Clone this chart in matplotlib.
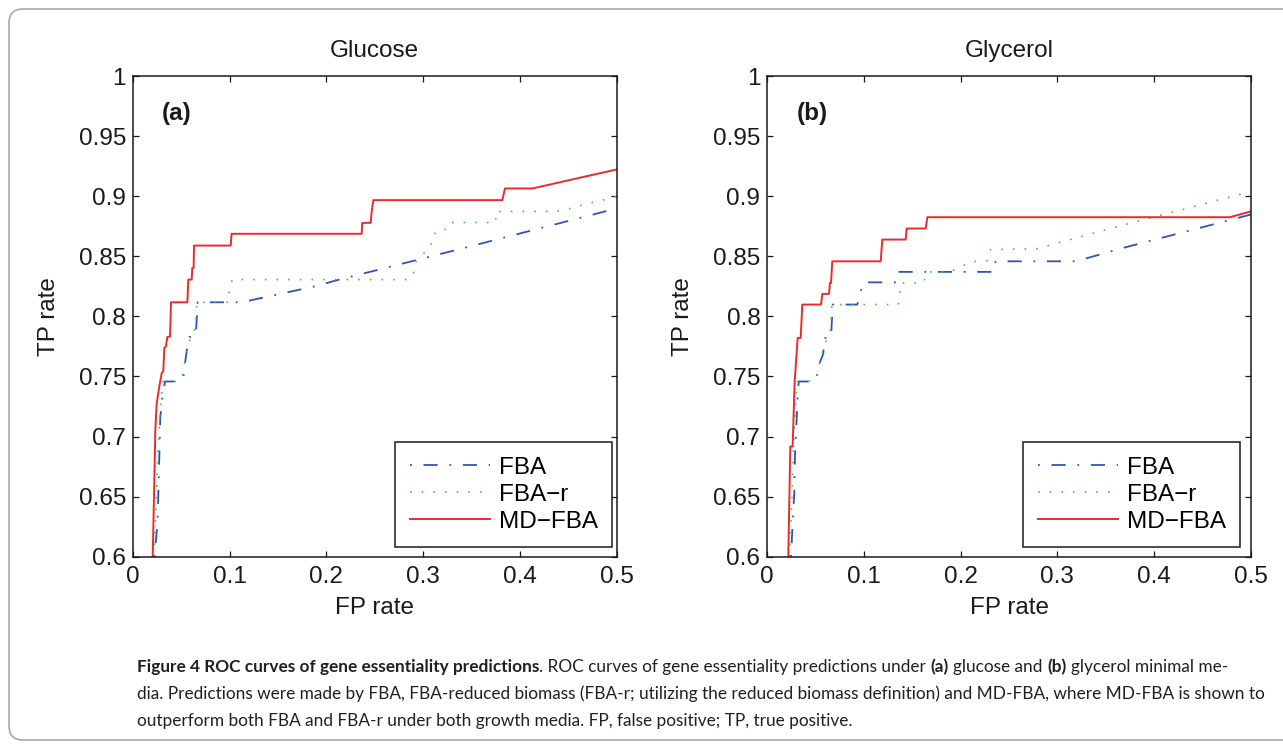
import matplotlib
matplotlib.use("Agg")
import matplotlib.pyplot as plt
from matplotlib.patches import FancyBboxPatch
from matplotlib.transforms import IdentityTransform

# ---- values (FP rate, TP rate) ----
GLU_FBA_X = [0.0222, 0.0245, 0.0255, 0.0262, 0.0272, 0.0282, 0.0307, 0.0331, 0.0452, 0.052,
             0.0538, 0.0555, 0.0582, 0.0648, 0.0659, 0.0669, 0.1124, 0.1882, 0.2107, 0.3492, 0.5]
GLU_FBA_Y = [0.6, 0.6208, 0.632, 0.6528, 0.6833, 0.7153, 0.7348, 0.7458, 0.7458, 0.7487,
             0.7612, 0.7708, 0.7828, 0.7833, 0.7973, 0.8117, 0.8117, 0.825, 0.83, 0.8583, 0.8898]
GLU_FBAR_X = [0.0215, 0.0238, 0.026, 0.0285, 0.031, 0.0434, 0.0505, 0.0566, 0.0648, 0.0652,
              0.0659, 0.0993, 0.0996, 0.1027, 0.283, 0.2899, 0.2909, 0.2961, 0.3037, 0.3082,
              0.3113, 0.3219, 0.3268, 0.3751, 0.3751, 0.4354, 0.4471, 0.4588, 0.4702, 0.4815,
              0.4933, 0.5]
GLU_FBAR_Y = [0.6, 0.64, 0.69, 0.725, 0.7458, 0.7458, 0.748, 0.7764, 0.7908, 0.8006,
              0.8117, 0.8117, 0.8228, 0.8306, 0.8306, 0.8342, 0.8437, 0.8495, 0.8542, 0.8597,
              0.8687, 0.8708, 0.8781, 0.8781, 0.8873, 0.8873, 0.8887, 0.8912, 0.8939, 0.8958,
              0.8983, 0.8998]
GLU_MD_X = [0.0204, 0.0217, 0.0231, 0.0245, 0.0272, 0.0297, 0.0313, 0.0324, 0.0341, 0.0355,
            0.0383, 0.0393, 0.0562, 0.0572, 0.0607, 0.0613, 0.0627, 0.0631, 0.101, 0.102,
            0.2365, 0.2371, 0.2458, 0.2468, 0.2485, 0.3819, 0.3847, 0.4129, 0.5]
GLU_MD_Y = [0.6, 0.65, 0.7056, 0.7278, 0.7417, 0.7528, 0.7542, 0.7737, 0.775, 0.7828,
            0.7833, 0.8117, 0.8117, 0.8306, 0.8306, 0.8403, 0.8403, 0.8589, 0.8589, 0.8687,
            0.8687, 0.8778, 0.8778, 0.887, 0.8967, 0.8967, 0.9064, 0.9064, 0.9222]

GLY_FBA_X = [0.0245, 0.0252, 0.0269, 0.0279, 0.0286, 0.0297, 0.0314, 0.0325, 0.0424, 0.0511,
             0.0527, 0.0579, 0.0589, 0.0659, 0.0676, 0.093, 0.0982, 0.0995, 0.1338, 0.1355,
             0.2345, 0.2362, 0.3192, 0.3682, 0.4316, 0.5]
GLY_FBA_Y = [0.6, 0.6112, 0.6389, 0.6528, 0.6833, 0.7028, 0.7333, 0.7458, 0.7458, 0.7478,
             0.7583, 0.7689, 0.782, 0.782, 0.8098, 0.8098, 0.8256, 0.8283, 0.8283, 0.837,
             0.837, 0.8458, 0.8458, 0.857, 0.8703, 0.8847]
GLY_FBAR_X = [0.023, 0.0255, 0.0275, 0.0295, 0.031, 0.0424, 0.0511, 0.0527, 0.058, 0.0655,
              0.0667, 0.1355, 0.1372, 0.1383, 0.1613, 0.1655, 0.189, 0.2062, 0.2158, 0.2275,
              0.231, 0.2786, 0.3596, 0.4296, 0.4992]
GLY_FBAR_Y = [0.6, 0.65, 0.70, 0.7333, 0.7458, 0.7458, 0.748, 0.757, 0.7736, 0.789,
              0.8098, 0.8098, 0.818, 0.8278, 0.8278, 0.837, 0.837, 0.8437, 0.8458, 0.8464,
              0.8556, 0.8562, 0.8742, 0.8889, 0.9037]
GLY_MD_X = [0.0217, 0.0238, 0.0262, 0.0283, 0.0314, 0.0345, 0.0362, 0.0555, 0.0569, 0.0638,
            0.0648, 0.0659, 0.0672, 0.1173, 0.1189, 0.1431, 0.1441, 0.1638, 0.1655, 0.4785,
            0.4999]
GLY_MD_Y = [0.6, 0.6917, 0.6917, 0.7458, 0.782, 0.782, 0.8098, 0.8098, 0.8187, 0.8187,
            0.8278, 0.8278, 0.8458, 0.8458, 0.8639, 0.8639, 0.8731, 0.8731, 0.8825, 0.8825,
            0.8873]

SERIES = ["FBA", "FBA\u2212r", "MD\u2212FBA"]
TITLES = ["Glucose", "Glycerol"]
PANEL_TAGS = ["(a)", "(b)"]
XTICKS = [0, 0.1, 0.2, 0.3, 0.4, 0.5]
XTICK_LABELS = ["0", "0.1", "0.2", "0.3", "0.4", "0.5"]
YTICKS = [0.6, 0.65, 0.7, 0.75, 0.8, 0.85, 0.9, 0.95, 1.0]
YTICK_LABELS = ["0.6", "0.65", "0.7", "0.75", "0.8", "0.85", "0.9", "0.95", "1"]

CAPTION = [
    [("Figure 4 ROC curves of gene essentiality predictions", True, False),
     (". ROC curves of gene essentiality predictions under", False, False),
     ("(a)", True, True), ("glucose and", False, True),
     ("(b)", True, True), ("glycerol minimal me-", False, True)],
    [("dia. Predictions were made by FBA, FBA-reduced biomass (FBA-r; utilizing the reduced "
      "biomass definition) and MD-FBA, where MD-FBA is shown to", False, False)],
    [("outperform both FBA and FBA-r under both growth media. FP, false positive; "
      "TP, true positive.", False, False)],
]
CAP_WIDTHS = [1133, 1125]   # pixel width of caption lines 1 and 2 in the reference

BLUE, GREEN, RED = "#3152b8", "#47c447", "#ec2a2a"
FS = 17.5
W, H = 1283, 745

plt.rcParams["font.family"] = ["Liberation Sans", "DejaVu Sans"]
fig = plt.figure(figsize=(W / 100, H / 100), dpi=100)

panels = [
    (133.0, (GLU_FBA_X, GLU_FBA_Y), (GLU_FBAR_X, GLU_FBAR_Y), (GLU_MD_X, GLU_MD_Y), 4.2),
    (767.3, (GLY_FBA_X, GLY_FBA_Y), (GLY_FBAR_X, GLY_FBAR_Y), (GLY_MD_X, GLY_MD_Y), 10.7),
]
for i, (left, fba, fbar, md, leg_gap) in enumerate(panels):
    ax = fig.add_axes([left / W, (H - 556.7) / H, 483.5 / W, 480.7 / H])
    ax.plot(*fba, color=BLUE, lw=1.3, ls=(0, (1, 6.5, 7.8, 6.5)), label=SERIES[0])
    ax.plot(*fbar, color=GREEN, lw=1.2, ls=(0, (1, 6)), label=SERIES[1])
    ax.plot(*md, color=RED, lw=1.4, label=SERIES[2])
    ax.set_xlim(0, 0.5)
    ax.set_ylim(0.6, 1.0)
    ax.set_xticks(XTICKS, XTICK_LABELS)
    ax.set_yticks(YTICKS, YTICK_LABELS)
    ax.tick_params(direction="in", length=4.5, width=0.9, top=True, right=True,
                   labelsize=FS, colors="#1a1a1a")
    ax.tick_params(axis="x", pad=7)
    ax.tick_params(axis="y", pad=5)
    for s in ax.spines.values():
        s.set_linewidth(1.1)
        s.set_color("#1a1a1a")
    ax.set_title(TITLES[i], fontsize=FS, pad=14, color="#1a1a1a")
    ax.set_xlabel("FP rate", fontsize=FS, color="#1a1a1a")
    ax.set_ylabel("TP rate", fontsize=FS, color="#1a1a1a")
    ax.xaxis.set_label_coords(0.5, -0.083)
    ax.yaxis.set_label_coords(-0.152, 0.5)
    ax.text(0.06, 0.923, PANEL_TAGS[i], transform=ax.transAxes, fontsize=FS,
            fontweight="bold", va="center", ha="left", color="#1a1a1a")
    leg = ax.legend(loc="lower right", bbox_to_anchor=(1 - leg_gap / 483.5, 9.4 / 480.7),
                    borderaxespad=0, fontsize=FS, fancybox=False, framealpha=1,
                    edgecolor="#1a1a1a", handlelength=3.3, handletextpad=0.35,
                    labelspacing=0.2, borderpad=0.6)
    leg.get_frame().set_linewidth(1.1)

# page frame around the figure
frame = FancyBboxPatch((9, 5), 1400, H - 9 - 5, boxstyle="round,pad=0,rounding_size=14",
                       transform=IdentityTransform(), fill=False, ec="#a8a8a8", lw=1.2)
fig.add_artist(frame)

# caption, drawn piece by piece so bold runs sit inline
CAP_FONT = ["Lato", "DejaVu Sans"]
r = fig.canvas.get_renderer()


def text_w(s, size, bold):
    t = fig.text(0, 0, s, fontsize=size, family=CAP_FONT,
                 fontweight="bold" if bold else "normal")
    w = t.get_window_extent(r).width
    t.remove()
    return w


def line_w(segs, size):
    sp = text_w("x x", size, False) - text_w("xx", size, False)
    return sum(text_w(s, size, b) + (sp if pre else 0) for s, b, pre in segs)


cap_size = min(11.0 * CAP_WIDTHS[k] / line_w(CAPTION[k], 11.0) for k in range(2))
space = text_w("x x", cap_size, False) - text_w("xx", cap_size, False)
for segs, base in zip(CAPTION, [73, 46, 19]):
    x = 137
    for s, b, pre in segs:
        if pre:
            x += space
        t = fig.text(x / W, base / H, s, fontsize=cap_size, family=CAP_FONT,
                     fontweight="bold" if b else "normal", va="baseline", color="#231f20")
        x += t.get_window_extent(r).width

fig.savefig("out.png", dpi=100, facecolor="white")
